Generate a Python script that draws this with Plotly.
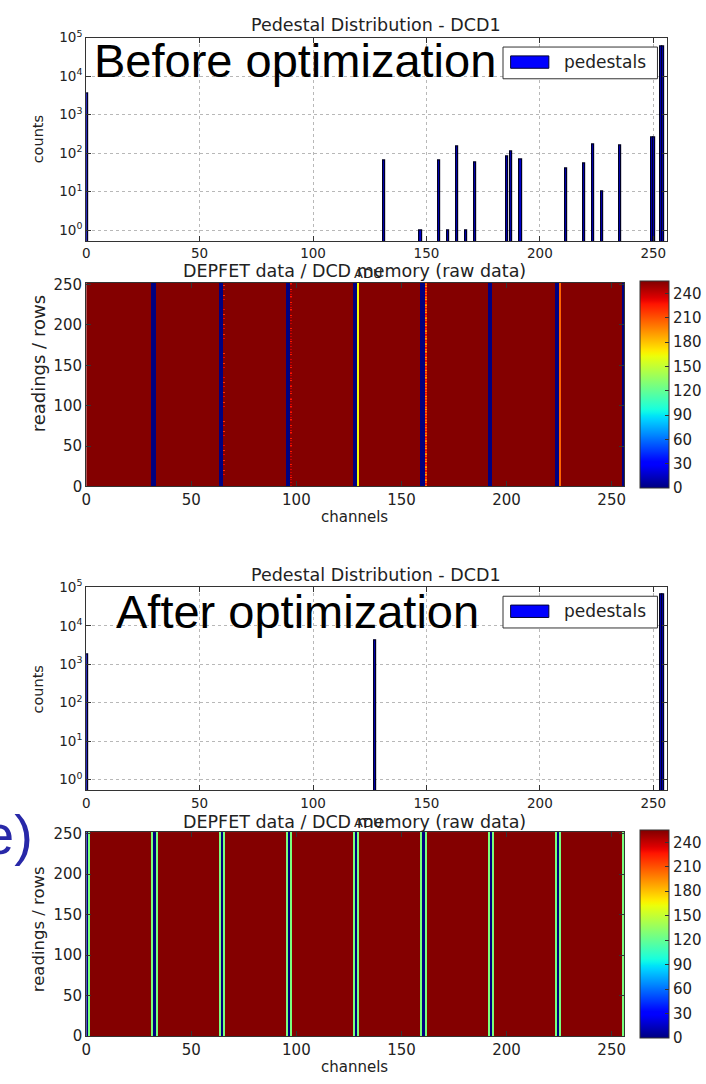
import numpy as np
import plotly.graph_objects as go

W, H = 706, 1084

# ---------------- data ----------------
# Pedestal histograms (ADU bin -> counts)
before_bins = [0, 131, 147, 155, 159, 163, 167, 171, 185, 187, 191, 211, 219, 223, 227, 235, 249, 250, 253, 254]
before_counts = [3600, 63, 1, 63, 1, 145, 1, 57, 80, 110, 68, 39, 52, 163, 10, 155, 250, 250, 60000, 60000]

after_bins = [0, 127, 253, 254]
after_counts = [1800, 4200, 66000, 66000]

# DCD memory maps: channels x readings
n_channels = 256
n_rows = 252
background_adu = 254

before_zero_channels = [31, 32, 63, 64, 95, 96, 127, 128, 159, 160, 191, 192, 223, 224, 255]
before_flat_channels = {129: 165, 225: 205}
before_dotted_channels = {
    65: [254, 254, 254, 232, 254, 254, 254, 254, 220, 254, 254, 254],
    97: [254, 240, 254, 226, 254, 236, 254, 254],
    161: [222, 200, 228, 215, 232, 205, 225, 190],
}

after_zero_channels = [0, 32, 64, 96, 128, 160, 192, 224]
after_mid_channels = [1, 31, 33, 63, 65, 95, 97, 127, 129, 159, 161, 191, 193, 223, 225, 255]
after_mid_adu = 127

hist_ticks = [0, 50, 100, 150, 200, 250]
log_ticks = [1, 10, 100, 1000, 10000, 100000]
log_ticktext = ["10<sup>%d</sup>" % i for i in range(6)]
map_ticks = [0, 50, 100, 150, 200, 250]
cbar_ticks = [0, 30, 60, 90, 120, 150, 180, 210, 240]


def build_map(zero_cols, flat_cols, dotted_cols):
    z = np.full((n_rows, n_channels), float(background_adu))
    for c in zero_cols:
        z[:, c] = 0
    for c, v in flat_cols.items():
        z[:, c] = v
    for c, seq in dotted_cols.items():
        z[:, c] = np.resize(np.array(seq, dtype=float), n_rows)
    return z


z_before = build_map(before_zero_channels, before_flat_channels, before_dotted_channels)
z_after = build_map(after_zero_channels, {c: after_mid_adu for c in after_mid_channels}, {})


# matplotlib-style "jet" colour map
def jet_scale(n=64):
    r = ([0, 0.35, 0.66, 0.89, 1], [0, 0, 1, 1, 0.5])
    g = ([0, 0.125, 0.375, 0.64, 0.91, 1], [0, 0, 1, 1, 0, 0])
    b = ([0, 0.11, 0.34, 0.65, 1], [0.5, 1, 1, 0, 0])
    out = []
    for t in np.linspace(0, 1, n):
        cr = np.interp(t, *r); cg = np.interp(t, *g); cb = np.interp(t, *b)
        out.append([float(t), "rgb(%d,%d,%d)" % (round(cr * 255), round(cg * 255), round(cb * 255))])
    return out


JET = jet_scale()


def px_x(x):
    return x / W


def px_y(y):
    return 1 - y / H


FONT = "DejaVu Sans"
TXT = "#222222"

fig = go.Figure()

# histograms
for bins, counts, xa, ya in [(before_bins, before_counts, "x", "y"),
                             (after_bins, after_counts, "x3", "y3")]:
    fig.add_trace(go.Bar(
        x=[b + 0.5 for b in bins], y=counts, width=1,
        marker=dict(color="#0000cc", line=dict(color="#000022", width=1.2)),
        xaxis=xa, yaxis=ya, showlegend=False, name="pedestals",
    ))

# memory maps
x_centers = np.arange(n_channels) + 0.5
y_centers = np.arange(n_rows) + 0.5
for z, xa, ya, top, bot in [(z_before, "x2", "y2", 277.7, 485.0),
                            (z_after, "x4", "y4", 836.7, 1044.3)]:
    fig.add_trace(go.Heatmap(
        z=z, x=x_centers, y=y_centers, xaxis=xa, yaxis=ya,
        colorscale=JET, zmin=0, zmax=255, zsmooth=False,
        colorbar=dict(
            x=px_x(641), xanchor="left", y=px_y((top + bot) / 2), yanchor="middle",
            thickness=29, thicknessmode="pixels", len=bot - top, lenmode="pixels",
            outlinewidth=1, outlinecolor="#333333",
            tickvals=cbar_ticks, ticks="inside", ticklen=4, tickcolor="#333333",
            tickfont=dict(family=FONT, size=15, color=TXT), xpad=0, ypad=0,
        ),
    ))

axis_common = dict(showline=True, linecolor="#333333", linewidth=1, mirror="ticks",
                   ticks="inside", ticklen=5, tickcolor="#333333", zeroline=False)

hist_x = dict(axis_common, range=[0, 256], tickvals=hist_ticks, showgrid=True,
              gridcolor="#b8b8b8", griddash="dot", gridwidth=1,
              tickfont=dict(family=FONT, size=13.5, color=TXT))
hist_y = dict(axis_common, type="log", range=[-0.28, 5], tickvals=log_ticks, ticktext=log_ticktext,
              showgrid=True, gridcolor="#b8b8b8", griddash="dot", gridwidth=1,
              tickfont=dict(family=FONT, size=13.5, color=TXT))
map_x = dict(axis_common, range=[0, 256], tickvals=map_ticks, showgrid=False,
             tickfont=dict(family=FONT, size=15, color=TXT))
map_y = dict(axis_common, range=[0, n_rows], tickvals=map_ticks, showgrid=False,
             tickfont=dict(family=FONT, size=15, color=TXT))

fig.update_layout(
    width=W, height=H, autosize=False,
    margin=dict(l=0, r=0, t=0, b=0),
    paper_bgcolor="white", plot_bgcolor="white",
    showlegend=False, bargap=0,
    xaxis=dict(hist_x, domain=[px_x(82), px_x(668.5)], anchor="y"),
    yaxis=dict(hist_y, domain=[px_y(235), px_y(28)], anchor="x"),
    xaxis2=dict(map_x, domain=[px_x(82), px_x(625.5)], anchor="y2"),
    yaxis2=dict(map_y, domain=[px_y(485), px_y(277.7)], anchor="x2"),
    xaxis3=dict(hist_x, domain=[px_x(82), px_x(668.5)], anchor="y3"),
    yaxis3=dict(hist_y, domain=[px_y(794.3), px_y(587.7)], anchor="x3"),
    xaxis4=dict(map_x, domain=[px_x(82), px_x(625.5)], anchor="y4"),
    yaxis4=dict(map_y, domain=[px_y(1044.3), px_y(836.7)], anchor="x4"),
)


def label(text, x, y, size, color=TXT, family=FONT, angle=0, xanchor="center"):
    fig.add_annotation(text=text, x=px_x(x), y=px_y(y), xref="paper", yref="paper",
                       showarrow=False, xanchor=xanchor, yanchor="middle", textangle=angle,
                       font=dict(family=family, size=size, color=color))


# panel titles and axis titles
for off in (0, 560):
    label("Pedestal Distribution - DCD1", 375, 15.5 + off, 17.5)
    label("counts", 33, 132 + off, 14.5, angle=-90)

label("DEPFET data / DCD memory (raw data)", 353, 265.5, 17.5)
label("ADU", 367, 268, 13)
label("readings / rows", 34, 360, 18, angle=-90)
label("channels", 353, 516, 15)

label("DEPFET data / DCD memory (raw data)", 353, 826, 17.5)
label("ADU", 367, 827, 13)
label("readings / rows", 34, 936, 16.5, angle=-90)
label("channels", 353, 1076, 15)

# legends
for top in (37.7, 596.7):
    fig.add_shape(type="rect", xref="paper", yref="paper",
                  x0=px_x(503), x1=px_x(659), y0=px_y(top + 32.3), y1=px_y(top),
                  line=dict(color="#333333", width=1), fillcolor="white", layer="above")
    fig.add_shape(type="rect", xref="paper", yref="paper",
                  x0=px_x(510.7), x1=px_x(549.3), y0=px_y(top + 21.6), y1=px_y(top + 9),
                  line=dict(color="#000033", width=1), fillcolor="#0000ff", layer="above")
    label("pedestals", 563, top + 15.5, 17, xanchor="left")

# slide captions
label("Before optimization", 88, 51, 47, color="black", family="Liberation Sans", xanchor="left")
label("After optimization", 110, 612, 47, color="black", family="Liberation Sans", xanchor="left")
label("e)", 30, 839, 56, color="#2828a8", family="Liberation Sans", xanchor="right")

fig.write_html("out.html")
